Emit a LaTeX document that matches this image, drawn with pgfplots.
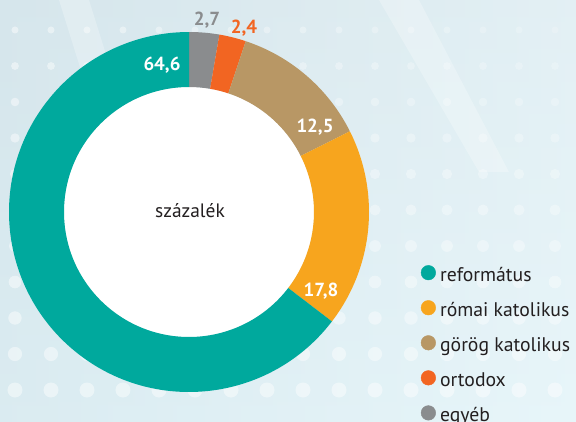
\documentclass[border=0pt]{standalone}
\usepackage{fontspec}
\setmainfont{PT Sans}
\usepackage{pgfplots}
\pgfplotsset{compat=1.18}
\usepackage{pgfplotstable}
\usetikzlibrary{calc}

\definecolor{cRef}{RGB}{0,169,157}
\definecolor{cRom}{RGB}{247,165,30}
\definecolor{cGor}{RGB}{184,151,101}
\definecolor{cOrt}{RGB}{242,101,34}
\definecolor{cEgy}{RGB}{138,140,142}
\definecolor{cText}{RGB}{35,31,32}
\definecolor{bgL}{RGB}{214,230,236}
\definecolor{bgR}{RGB}{238,248,251}
\definecolor{bgB}{RGB}{224,243,248}

% slices clockwise from 12 o'clock
\pgfplotstableread{
name value col
egyeb 2.7 cEgy
ortodox 2.4 cOrt
gorog 12.5 cGor
romai 17.8 cRom
reformatus 64.6 cRef
}\piedata

\begin{document}
\begin{tikzpicture}
% background (decoration)
\shade[left color=bgL, right color=bgR] (-189bp,-210bp) rectangle (387bp,212bp);
\shade[top color=bgL, bottom color=bgB, opacity=0.45] (-189bp,-210bp) rectangle (387bp,212bp);
\fill[white, opacity=0.25] (-130bp,212bp) -- (-100bp,212bp) -- (-40bp,20bp) -- (-70bp,20bp) -- cycle;
\fill[white, opacity=0.25] (190bp,212bp) -- (230bp,212bp) -- (320bp,40bp) -- (290bp,40bp) -- cycle;
\foreach \i in {0,...,15}{
  \foreach \j in {0,...,10}{
    \pgfmathsetmacro\px{15+36*\i-189}
    \pgfmathsetmacro\py{212-(30+36*\j)}
    \pgfmathsetmacro\rr{3.5+4*\j/10}
    \pgfmathsetmacro\op{0.45*(1-0.6*\i/15*(1-\j/10))}
    \fill[white, opacity=\op] (\px bp,\py bp) circle[radius=\rr bp];
  }
}
\begin{axis}[
  x=1bp, y=1bp,
  xmin=-189, xmax=387, ymin=-210, ymax=212,
  scale only axis, hide axis, clip=false,
  at={(0,0)}, anchor=origin,
  legend cell align=left,
  legend style={at={(axis cs:228.7,-51)}, anchor=north west, draw=none, fill=none,
    nodes={inner sep=0pt, text height=12bp, text depth=4bp, text=cText,
      font=\fontsize{19.8}{19.8}\selectfont},
    row sep=14.75bp, column sep=4.2bp},
]
\fill[white] (axis cs:0,0) circle[radius=125bp];
\def\a{90}
\pgfplotsforeachungrouped \k in {0,...,4}{
  \pgfplotstablegetelem{\k}{value}\of\piedata \let\v\pgfplotsretval
  \pgfplotstablegetelem{\k}{col}\of\piedata \let\c\pgfplotsretval
  \pgfmathsetmacro\b{\a-3.6*\v}
  \edef\tmp{\noexpand\fill[\c] (\noexpand$(axis cs:0,0)+(\a:180bp)\noexpand$) arc[start angle=\a, end angle=\b, radius=180bp] -- (\noexpand$(axis cs:0,0)+(\b:125bp)\noexpand$) arc[start angle=\b, end angle=\a, radius=125bp] -- cycle;}
  \tmp
  \global\let\a\b
}
\node[font=\fontsize{19}{19}\selectfont\bfseries, text=white] at (axis cs:-27,147) {64,6};
\node[font=\fontsize{19}{19}\selectfont\bfseries, text=cEgy] at (axis cs:18,192) {2,7};
\node[font=\fontsize{19}{19}\selectfont\bfseries, text=cOrt] at (axis cs:55,184) {2,4};
\node[font=\fontsize{19}{19}\selectfont\bfseries, text=white] at (axis cs:126,84.5) {12,5};
\node[font=\fontsize{19}{19}\selectfont\bfseries, text=white] at (axis cs:132,-79) {17,8};
\node[font=\fontsize{19.5}{19.5}\selectfont, text=cText] at (axis cs:1,1) {százalék};

\addlegendimage{legend image code/.code={\fill[cRef] (0bp,4.8bp) circle[radius=7.3bp];}}
\addlegendentry{református}
\addlegendimage{legend image code/.code={\fill[cRom] (0bp,4.8bp) circle[radius=7.3bp];}}
\addlegendentry{római katolikus}
\addlegendimage{legend image code/.code={\fill[cGor] (0bp,4.8bp) circle[radius=7.3bp];}}
\addlegendentry{görög katolikus}
\addlegendimage{legend image code/.code={\fill[cOrt] (0bp,4.8bp) circle[radius=7.3bp];}}
\addlegendentry{ortodox}
\addlegendimage{legend image code/.code={\fill[cEgy] (0bp,4.8bp) circle[radius=7.3bp];}}
\addlegendentry{egyéb}
\end{axis}
\pgfresetboundingbox
\useasboundingbox (-189bp,-210bp) rectangle (387bp,212bp);
\end{tikzpicture}
\end{document}
